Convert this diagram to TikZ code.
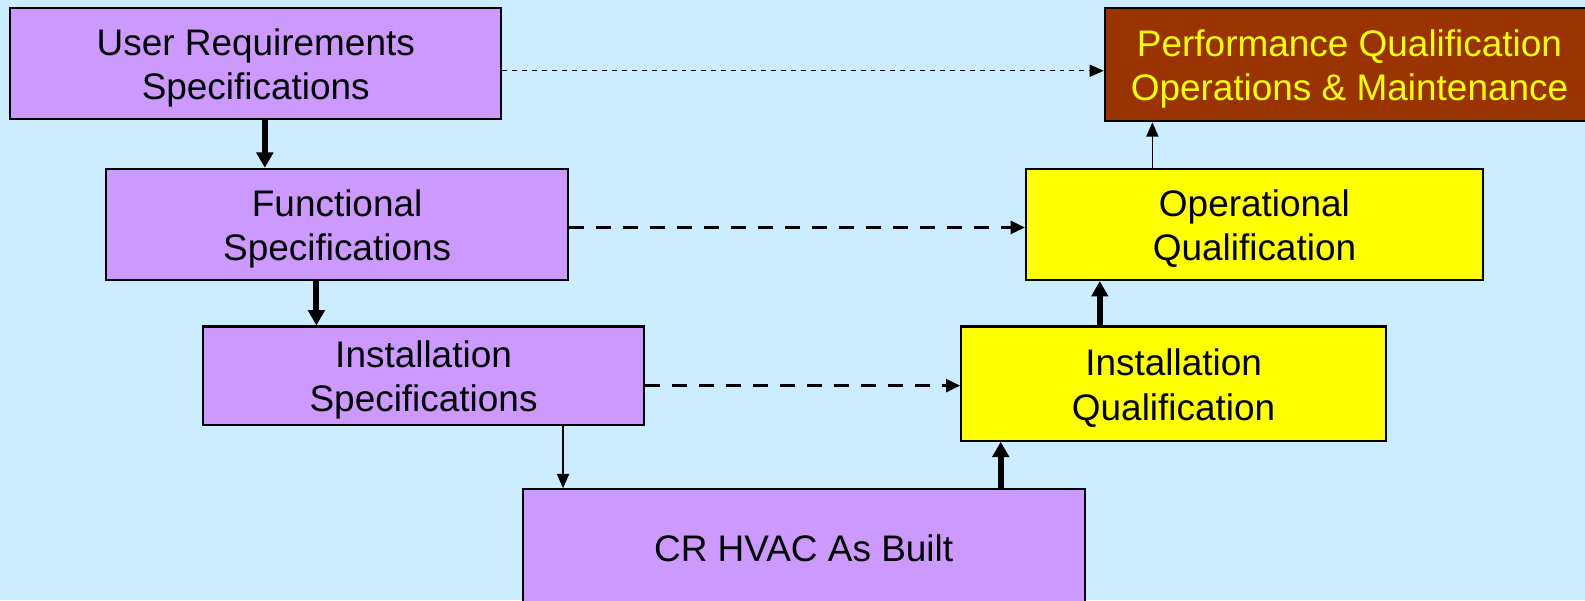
\documentclass[tikz,border=0pt]{standalone}
\usepackage{fontspec}
\setmainfont{Liberation Sans}
\usetikzlibrary{arrows.meta}

\definecolor{skyback}{HTML}{CCECFF}
\definecolor{specviolet}{HTML}{CC99FF}
\definecolor{qualyellow}{HTML}{FFFF00}
\definecolor{perfbrown}{HTML}{993300}

\newcommand{\toppad}{\rule{0pt}{10pt}}

\tikzset{
  box/.style={draw=black, line width=0.6pt, align=center, inner sep=0pt,
    font=\fontsize{10.4}{12.5}\selectfont},
  spec/.style={box, fill=specviolet},
  qual/.style={box, fill=qualyellow},
  bold arrow/.style={line width=1.7pt, -{Triangle[length=4.3pt, width=4.6pt]}},
  thin arrow/.style={line width=0.4pt, -{Triangle[length=4pt, width=3.4pt]}},
  fine dash/.style={thin arrow, dash pattern=on 1.4pt off 1.4pt},
  long dash/.style={line width=0.8pt, dash pattern=on 4.3pt off 3.3pt,
    -{Triangle[length=4pt, width=3.6pt]}},
}

\begin{document}
\begin{tikzpicture}
  \fill[skyback] (0,0) rectangle (15.68,-5.94);
  \clip (0,0) rectangle (15.68,-5.94);
  \useasboundingbox (0,0) rectangle (15.68,-5.94);

  \node[spec, minimum width=4.86cm, minimum height=1.10cm] (urs) at (2.53,-0.63) {\toppad User Requirements\\Specifications};
  \node[spec, minimum width=4.57cm, minimum height=1.10cm] (fs) at (3.335,-2.22) {\toppad Functional\\Specifications};
  \node[spec, minimum width=4.36cm, minimum height=0.97cm] (ispec) at (4.19,-3.715) {\toppad Installation\\Specifications};
  \node[spec, minimum width=5.56cm, minimum height=1.16cm] (crhvac) at (7.95,-5.42) {CR HVAC As Built};

  \node[box, fill=perfbrown, text=qualyellow, minimum width=4.84cm, minimum height=1.12cm] (pq) at (13.35,-0.64) {\toppad Performance Qualification\\Operations \& Maintenance};
  \node[qual, minimum width=4.52cm, minimum height=1.10cm] (oq) at (12.41,-2.22) {\toppad Operational\\Qualification};
  \node[qual, minimum width=4.20cm, minimum height=1.13cm] (iq) at (11.61,-3.795) {\toppad Installation\\Qualification};

  \draw[bold arrow] ([xshift=0.09cm]urs.south) -- ([xshift=0.09cm]urs.south |- fs.north);
  \draw[bold arrow] ([xshift=-0.205cm]fs.south) -- ([xshift=-0.205cm]fs.south |- ispec.north);
  \draw[thin arrow] ([xshift=1.38cm]ispec.south) -- ([xshift=1.38cm]ispec.south |- crhvac.north);
  \draw[bold arrow] ([xshift=1.95cm]crhvac.north) -- ([xshift=1.95cm]crhvac.north |- iq.south);
  \draw[bold arrow] ([xshift=-0.73cm]iq.north) -- ([xshift=-0.73cm]iq.north |- oq.south);
  \draw[thin arrow] ([xshift=-1.01cm]oq.north) -- ([xshift=-1.01cm]oq.north |- pq.south);

  \draw[fine dash] ([yshift=-0.07cm]urs.east) -- ([yshift=-0.07cm]urs.east -| pq.west);
  \draw[long dash] ([yshift=-0.03cm]fs.east) -- ([yshift=-0.03cm]fs.east -| oq.west);
  \draw[long dash] ([yshift=-0.1cm]ispec.east) -- ([yshift=-0.1cm]ispec.east -| iq.west);
\end{tikzpicture}
\end{document}
